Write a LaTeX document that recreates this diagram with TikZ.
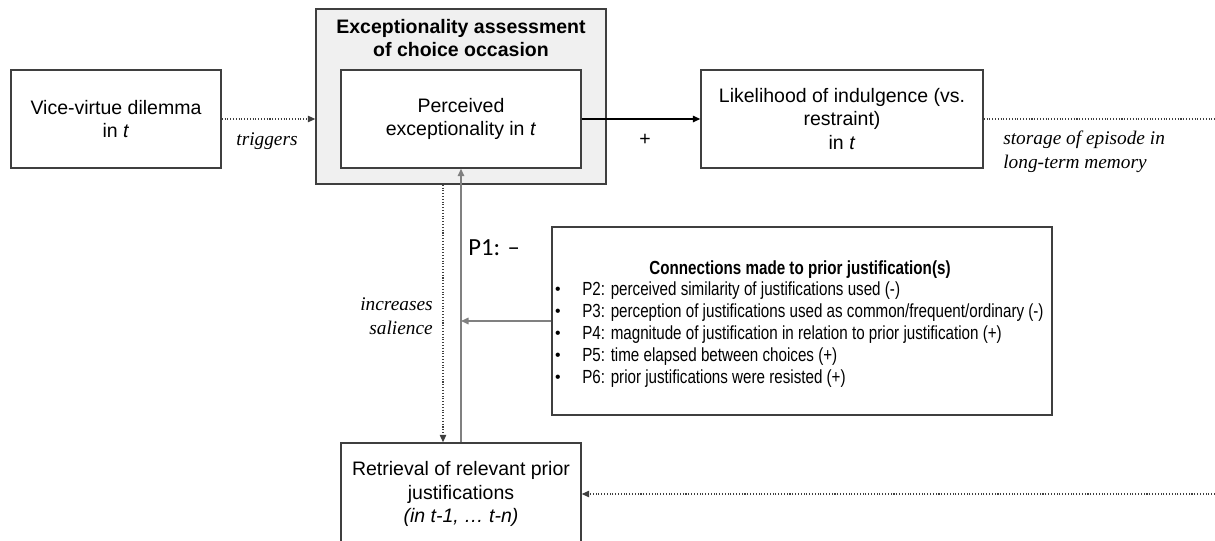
\documentclass[tikz,border=0pt]{standalone}
\usepackage{fontspec}
\setmainfont{Liberation Sans}
\newfontfamily\labelfont{Liberation Serif}
\newfontfamily\narrowfont[FakeStretch=0.80]{Liberation Sans}
\newfontfamily\pfont{Carlito}
\usetikzlibrary{arrows.meta}
\definecolor{boxline}{HTML}{3F3F3F}
\definecolor{greyline}{HTML}{808080}
\definecolor{shade}{HTML}{F0F0F0}

\begin{document}
\begin{tikzpicture}[x=0.02cm, y=-0.02cm, >={Triangle[length=1.5mm,width=1.3mm]},
    font=\fontsize{11.1}{13.3}\selectfont,
    box/.style = {draw=boxline, line width=0.8pt, fill=white, align=center, inner sep=2pt},
    dotarrow/.style = {->, densely dotted, draw=boxline, line width=0.6pt},
    arrow/.style = {->, draw=black, line width=0.8pt},
    greyarrow/.style = {->, draw=greyline, line width=0.9pt},
    lbl/.style = {font=\labelfont\itshape\fontsize{11}{13.5}\selectfont, inner sep=0pt}]
    \useasboundingbox (0,0) rectangle (1215,541);
    \clip (0,0) rectangle (1215,541);
    % Nodes

    \node[box, minimum width=210*0.02cm, minimum height=98*0.02cm] (vice) at (116,119) {Vice-virtue dilemma\\in \textit{t}};

    \node[box, fill=shade, minimum width=290*0.02cm, minimum height=175*0.02cm] (assess) at (461,96.5) {};
    \node[align=center, font=\bfseries\fontsize{11.1}{13.3}\selectfont] (assesstitle) at (461,38) {Exceptionality assessment\\of choice occasion};
    \node[box, minimum width=240*0.02cm, minimum height=98*0.02cm] (percv) at (461,119) {Perceived\\exceptionality in \textit{t}};

    \node[box, minimum width=282*0.02cm, minimum height=98*0.02cm] (likely) at (842,119) {Likelihood of indulgence (vs.\\restraint)\\in \textit{t}};

    \node[box, minimum width=500*0.02cm, minimum height=188*0.02cm] (conn) at (802,321) {};
    \node[font=\narrowfont\bfseries\fontsize{10.8}{13}\selectfont] (conntitle) at (800,270) {Connections made to prior justification(s)};
    \foreach \txt [count=\i] in {P2: perceived similarity of justifications used (-),
        P3: perception of justifications used as common/frequent/ordinary (-),
        P4: magnitude of justification in relation to prior justification (+),
        P5: time elapsed between choices (+),
        P6: prior justifications were resisted (+)} {
      \node[font=\fontsize{9}{10}\selectfont] (bul\i) at (558,269+22*\i) {\textbullet};
      \node[anchor=west, inner sep=0pt, font=\narrowfont\fontsize{10.8}{13}\selectfont] (item\i) at (582,269+22*\i) {\txt};
    }

    \node[box, minimum width=240*0.02cm, minimum height=102*0.02cm] (retr) at (461,494) {Retrieval of relevant prior\\justifications\\\textit{(in t-1, \dots\ t-n)}};

    \coordinate (storeend) at (1215,119);
    \coordinate (memin) at (1215,494);

    \node[lbl] (trig) at (267,141) {triggers};
    \node (plus) at (645,140) {+};
    \node[lbl, anchor=west, align=left] (store) at (1003,152) {storage of episode in\\long-term memory};
    \node[lbl, anchor=east, align=right] (salience) at (433,316) {increases\\salience};
    \node[anchor=west, inner sep=0pt, font=\pfont\fontsize{14}{16}\selectfont] (pone) at (468,248) {P1: \textendash};

    % Edges

    \draw[dotarrow] (vice.east) -- (vice.east -| assess.west);
    \draw[arrow] (percv.east) -- (likely.west);
    \draw[densely dotted, draw=boxline, line width=0.6pt] (likely.east) -- (storeend);
    \draw[dotarrow] ([xshift=-0.36cm]assess.south) -- ([xshift=-0.36cm]retr.north);
    \draw[greyarrow] (retr.north) -- (percv.south);
    \draw[greyarrow] (conn.west) -- (conn.west -| retr.north);
    \draw[dotarrow] (memin) -- (retr.east);

\end{tikzpicture}
\end{document}
